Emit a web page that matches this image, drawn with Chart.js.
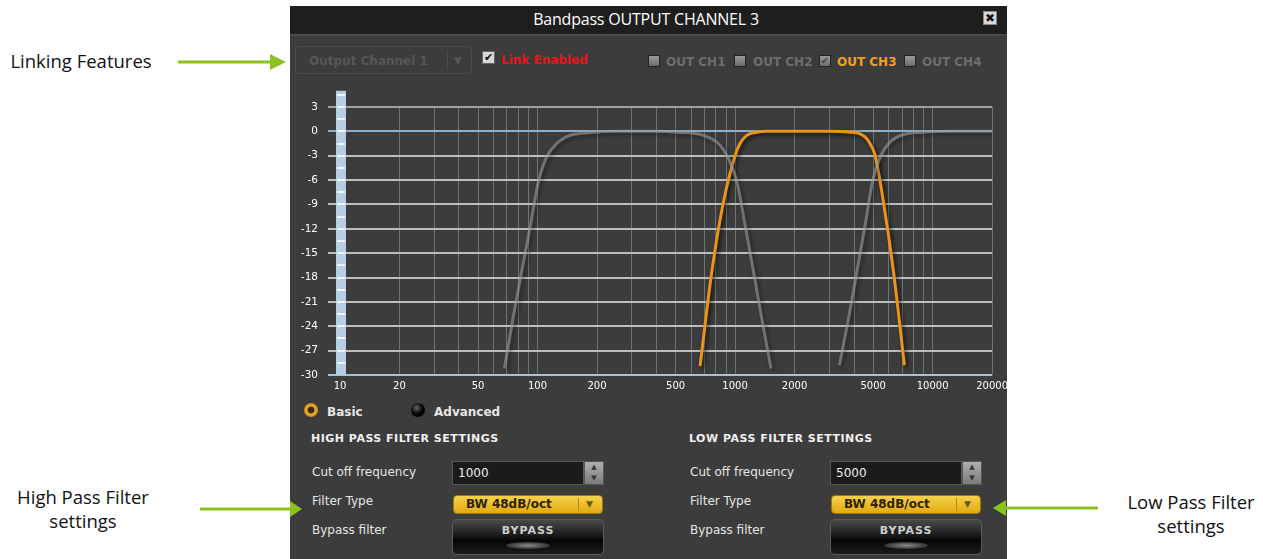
<!DOCTYPE html>
<html>
<head>
<meta charset="utf-8">
<script src="https://cdn.jsdelivr.net/npm/chart.js@4.4.0/dist/chart.umd.min.js"></script>
<style>
  body { margin: 0; background: #fff; width: 1263px; height: 559px; overflow: hidden; position: relative; font-family: "DejaVu Sans", sans-serif; }
  .abs { position: absolute; }
  .note { position: absolute; font-family: "Open Sans", sans-serif; font-size: 18.5px; color: #111; text-align: center; line-height: 24px; }
  .panel { left: 290px; top: 6px; width: 717px; height: 553px; background: #3c3c3c; }
  .titlebar { left: 290px; top: 6px; width: 717px; height: 28px; background: #1e1e1e; border-bottom: 2px solid #4a4a4a; }
  .title { left: 290px; top: 8px; width: 712px; text-align: center; color: #fff; font-family: "Open Sans", sans-serif; font-size: 16px; letter-spacing: -0.2px; }
  .close { left: 983px; top: 11px; width: 12px; height: 12px; background: #d8d8d8; border: 1px solid #888; color: #111; font: bold 12px/12px "DejaVu Sans"; text-align: center; }
  .lbl { color: #e6e6e6; font-size: 12px; }
  .bold { font-weight: bold; }
  .cb { width: 10px; height: 10px; border: 1px solid #222; background: linear-gradient(#9a9a9a, #6c6c6c); }
  .outtxt { color: #6e6e6e; font-weight: bold; font-size: 12px; }
  .input { background: #1b1b1b; border: 1px solid #5a5a5a; color: #eee; font-size: 12px; line-height: 22px; padding-left: 5px; box-sizing: border-box; }
  .spin { background: linear-gradient(#b0b0b0, #7a7a7a); border: 1px solid #555; box-sizing: border-box; }
  .yellow { background: linear-gradient(#f6d24a, #e2a90f); border-radius: 4px; border: 1px solid #9a7a10; box-sizing: border-box; color: #2d2200; font-weight: bold; font-size: 12px; line-height: 17px; }
  .bypass { background: linear-gradient(#4a4a4a, #1a1a1a 45%, #050505 60%, #1c1c1c); border: 1px solid #5a5a5a; border-radius: 5px; box-sizing: border-box; color: #cfcfcf; font-weight: bold; font-size: 11px; letter-spacing: 1px; text-align: center; }
</style>
</head>
<body>
<!-- annotations outside the window -->
<div class="note" style="left:0px; top:49px; width:162px;">Linking Features</div>
<div class="note" style="left:3px; top:485px; width:160px;">High Pass Filter<br>settings</div>
<div class="note" style="left:1111px; top:490px; width:160px;">Low Pass Filter<br>settings</div>

<div class="abs panel"></div>
<div class="abs titlebar"></div>
<div class="abs title">Bandpass OUTPUT CHANNEL 3</div>
<div class="abs close">✖</div>

<!-- linking row -->
<div class="abs" style="left:295px; top:46px; width:177px; height:28px; border:1px solid #4c4c4c; border-radius:4px; box-sizing:border-box;"></div>
<div class="abs bold" style="left:309px; top:54px; color:#575757; font-size:12px;">Output Channel 1</div>
<div class="abs" style="left:447px; top:50px; width:1px; height:20px; background:#4c4c4c;"></div>
<div class="abs" style="left:454px; top:55px; color:#575757; font-size:10px;">▼</div>
<div class="abs" style="left:482px; top:51px; width:11px; height:11px; background:#d8d8d8; border:1px solid #666; color:#111; font:bold 11px/11px 'DejaVu Sans'; text-align:center;">✔</div>
<div class="abs bold" style="left:501px; top:53px; color:#e8141b; font-size:12px;">Link Enabled</div>

<div class="abs cb" style="left:648px; top:55px;"></div>
<div class="abs outtxt" style="left:666px; top:55px;">OUT CH1</div>
<div class="abs cb" style="left:734px; top:55px;"></div>
<div class="abs outtxt" style="left:753px; top:55px;">OUT CH2</div>
<div class="abs cb" style="left:819px; top:55px; color:#444; font:bold 10px/10px 'DejaVu Sans'; text-align:center;">✔</div>
<div class="abs outtxt" style="left:837px; top:55px; color:#f2a024;">OUT CH3</div>
<div class="abs cb" style="left:904px; top:55px;"></div>
<div class="abs outtxt" style="left:922px; top:55px;">OUT CH4</div>

<!-- chart -->
<div class="abs" style="left:290px; top:85px; width:723px; height:315px;">
  <canvas id="canvas"></canvas>
</div>

<!-- mode radios -->
<div class="abs" style="left:304px; top:403px; width:14px; height:14px; border-radius:50%; background:radial-gradient(circle, #3a2a05 0 3px, #f4b430 4px, #c98a10 7px);"></div>
<div class="abs bold lbl" style="left:327px; top:405px;">Basic</div>
<div class="abs" style="left:411px; top:403px; width:14px; height:14px; border-radius:50%; background:radial-gradient(circle at 40% 35%, #666 0, #111 5px, #000 7px);"></div>
<div class="abs bold lbl" style="left:434px; top:405px;">Advanced</div>

<!-- high pass column -->
<div class="abs bold lbl" style="left:311px; top:432px; font-size:11px; letter-spacing:0.5px; color:#f0f0f0;">HIGH PASS FILTER SETTINGS</div>
<div class="abs lbl" style="left:312px; top:465px;">Cut off frequency</div>
<div class="abs input" style="left:452px; top:461px; width:132px; height:24px;">1000</div>
<div class="abs spin" style="left:584px; top:461px; width:20px; height:24px; font-size:7px; color:#333; text-align:center; line-height:11px;">▲<br>▼</div>
<div class="abs lbl" style="left:312px; top:494px;">Filter Type</div>
<div class="abs yellow" style="left:453px; top:495px; width:150px; height:19px; padding-left:12px;">BW 48dB/oct</div>
<div class="abs" style="left:578px; top:498px; width:1px; height:13px; background:#b08a10;"></div>
<div class="abs" style="left:586px; top:499px; font-size:9px; color:#6a5a20;">▼</div>
<div class="abs lbl" style="left:312px; top:523px;">Bypass filter</div>
<div class="abs bypass" style="left:452px; top:519px; width:152px; height:36px; line-height:22px;">BYPASS</div>
<div class="abs" style="left:506px; top:542px; width:44px; height:7px; border-radius:50%; background:radial-gradient(ellipse, #8a8a8a 0, #333 70%, #111 100%);"></div>

<!-- low pass column -->
<div class="abs bold lbl" style="left:689px; top:432px; font-size:11px; letter-spacing:0.5px; color:#f0f0f0;">LOW PASS FILTER SETTINGS</div>
<div class="abs lbl" style="left:690px; top:465px;">Cut off frequency</div>
<div class="abs input" style="left:830px; top:461px; width:132px; height:24px;">5000</div>
<div class="abs spin" style="left:962px; top:461px; width:20px; height:24px; font-size:7px; color:#333; text-align:center; line-height:11px;">▲<br>▼</div>
<div class="abs lbl" style="left:690px; top:494px;">Filter Type</div>
<div class="abs yellow" style="left:831px; top:495px; width:150px; height:19px; padding-left:12px;">BW 48dB/oct</div>
<div class="abs" style="left:956px; top:498px; width:1px; height:13px; background:#b08a10;"></div>
<div class="abs" style="left:964px; top:499px; font-size:9px; color:#6a5a20;">▼</div>
<div class="abs lbl" style="left:690px; top:523px;">Bypass filter</div>
<div class="abs bypass" style="left:830px; top:519px; width:152px; height:36px; line-height:22px;">BYPASS</div>
<div class="abs" style="left:884px; top:542px; width:44px; height:7px; border-radius:50%; background:radial-gradient(ellipse, #8a8a8a 0, #333 70%, #111 100%);"></div>

<!-- green arrows -->
<svg class="abs" style="left:0; top:0;" width="1263" height="559">
  <g fill="#8cc21e" stroke="#8cc21e">
    <line x1="178" y1="62" x2="272" y2="62" stroke-width="3"/>
    <polygon points="270,54 286,62 270,70" stroke="none"/>
    <line x1="200" y1="509" x2="292" y2="509" stroke-width="3"/>
    <polygon points="290,501 302,509 290,517" stroke="none"/>
    <line x1="1005" y1="508" x2="1098" y2="508" stroke-width="3"/>
    <polygon points="1006,500 993,508 1006,516" stroke="none"/>
  </g>
</svg>

<script>
// frequency axis (Hz)
let freqLabels = [10, 20, 50, 100, 200, 500, 1000, 2000, 5000, 10000, 20000];
let freqGrid = [10, 20, 30, 40, 50, 60, 70, 80, 90,
                100, 200, 300, 400, 500, 600, 700, 800, 900,
                1000, 2000, 3000, 4000, 5000, 6000, 7000, 8000, 9000,
                10000, 20000];
// level axis (dB)
let dbTicks = [3, 0, -3, -6, -9, -12, -15, -18, -21, -24, -27, -30];

// channel 3 (this channel): HPF 1000 Hz / LPF 5000 Hz
let ch3Freq = [665, 762, 873, 1000, 1059, 1146, 1288, 1450, 2000, 3000, 3822, 4294, 4645, 4920, 5118, 5636, 6339, 7194];
let ch3Db = [-28.9, -17.3, -8.7, -3.0, -1.5, -0.5, -0.1, 0, 0, 0, -0.1, -0.3, -0.9, -1.9, -3.0, -8.7, -17.3, -28.8];

// other linked channels, drawn greyed
let ch2Freq = [68, 75, 83, 92, 101, 111, 125, 146, 185, 250, 400, 507, 692, 840, 944, 1021, 1125, 1240, 1366, 1520];
let ch2Db = [-29.2, -23.1, -17.3, -11.6, -6.2, -3.2, -1.5, -0.5, -0.15, 0, 0, -0.1, -0.5, -1.7, -3.8, -6.2, -11.6, -17.3, -23.1, -29.2];

let ch4Freq = [3373, 3748, 4133, 4550, 4956, 5420, 6090, 7120, 8990, 12000, 20000];
let ch4Db = [-28.8, -23.1, -17.3, -11.6, -6.2, -3.2, -1.3, -0.4, -0.1, 0, 0];

let toPoints = function(xs, ys) {
  return xs.map(function(f, i) { return {x: f, y: ys[i]}; });
}

// dark drop shadow under each response curve
let curveShadow = {
  id: 'curveShadow',
  beforeDatasetDraw: function(chart) {
    let ctx = chart.ctx;
    ctx.save();
    ctx.shadowColor = 'rgba(0,0,0,0.75)';
    ctx.shadowBlur = 4;
    ctx.shadowOffsetX = 2;
    ctx.shadowOffsetY = 2;
  },
  afterDatasetDraw: function(chart) {
    chart.ctx.restore();
  }
};

// the light blue level strip at 10 Hz
let levelStrip = {
  id: 'levelStrip',
  beforeDatasetsDraw: function(chart) {
    let ctx = chart.ctx;
    let xs = chart.scales.x, ys = chart.scales.y;
    let x = xs.getPixelForValue(10);
    let top = ys.getPixelForValue(5);
    let bottom = ys.getPixelForValue(-30);
    ctx.save();
    ctx.fillStyle = '#b7cde2';
    ctx.fillRect(x - 4, top, 10, bottom - top);
    ctx.fillStyle = '#f2f6fa';
    for (let v = 4.5; v > -30; v -= 1.5) {
      let y = Math.round(ys.getPixelForValue(v));
      ctx.fillRect(x - 3, y - 1, 8, 2);
    }
    ctx.restore();
  }
};

let renderChart = function() {
  let ctx = document.getElementById('canvas').getContext('2d');

  window.my_chart = new Chart(ctx, {
    type: 'line',
    data: {
      datasets: [
        {
          label: 'OUT CH2',
          data: toPoints(ch2Freq, ch2Db),
          borderColor: 'rgba(165,165,165,0.55)',
          borderWidth: 3,
          pointRadius: 0,
          cubicInterpolationMode: 'monotone'
        },
        {
          label: 'OUT CH4',
          data: toPoints(ch4Freq, ch4Db),
          borderColor: 'rgba(165,165,165,0.55)',
          borderWidth: 3,
          pointRadius: 0,
          cubicInterpolationMode: 'monotone'
        },
        {
          label: 'OUT CH3',
          data: toPoints(ch3Freq, ch3Db),
          borderColor: '#ec9418',
          borderWidth: 3,
          pointRadius: 0,
          cubicInterpolationMode: 'monotone'
        }
      ]
    },
    options: {
      responsive: true,
      maintainAspectRatio: false,
      animation: false,
      layout: { padding: { top: 22, right: 15, left: 0, bottom: 0 } },
      plugins: {
        legend: { display: false },
        tooltip: { enabled: false }
      },
      scales: {
        x: {
          type: 'logarithmic',
          min: 10,
          max: 20000,
          afterBuildTicks: function(scale) {
            scale.ticks = freqGrid.map(function(v) { return {value: v}; });
          },
          afterFit: function(scale) { scale.height = 25; },
          border: { display: false },
          grid: { color: '#687777', lineWidth: 1, drawTicks: false },
          ticks: {
            autoSkip: false,
            maxRotation: 0,
            padding: 5,
            color: '#ffffff',
            font: { family: 'DejaVu Sans', size: 10 },
            callback: function(v) { return freqLabels.indexOf(v) >= 0 ? String(v) : ''; }
          }
        },
        y: {
          min: -30,
          max: 3,
          afterBuildTicks: function(scale) {
            scale.ticks = dbTicks.map(function(v) { return {value: v}; });
          },
          afterFit: function(scale) { scale.width = 50; },
          border: { display: false },
          grid: {
            lineWidth: 2,
            tickLength: 12,
            color: function(c) {
              if (c.tick.value === 0) return '#93adc2';
              if (c.tick.value === -30) return '#a9bfd0';
              if (c.tick.value === 3) return '#a0a0a0';
              return '#bcbcbc';
            }
          },
          ticks: {
            padding: 10,
            color: '#ffffff',
            font: { family: 'DejaVu Sans', size: 10.5 }
          }
        }
      }
    },
    plugins: [levelStrip, curveShadow]
  });
}

renderChart();
</script>
</body>
</html>
